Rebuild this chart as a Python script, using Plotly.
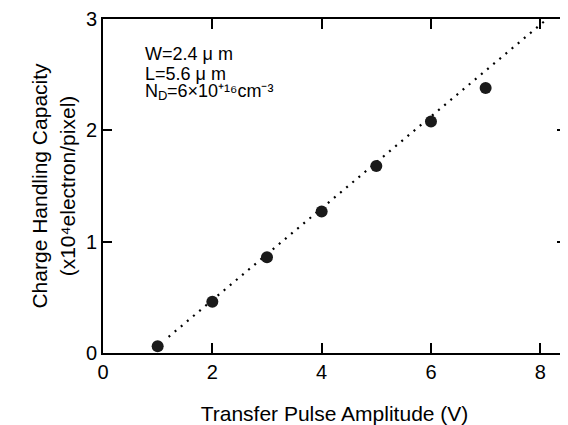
import plotly.graph_objects as go

# Data
pulse_v = [1, 2, 3, 4, 5, 6, 7]
capacity = [0.06, 0.46, 0.86, 1.27, 1.68, 2.08, 2.38]
fit_x = [1.2, 8.1]
fit_y = [0.145, 2.99]
x_ticks = [0, 2, 4, 6, 8]
y_ticks = [0, 1, 2, 3]
param_w = "W=2.4 μ m"
param_l = "L=5.6 μ m"
param_n = ["N", "D", "=6×10⁺¹⁶cm⁻³"]

X_RANGE = [0, 8.47]
Y_RANGE = [0, 3]

FONT = "Liberation Sans, Arial, Helvetica, sans-serif"
INK = "black"

fig = go.Figure()
fig.add_trace(go.Scatter(x=fit_x, y=fit_y, mode="lines",
                         line=dict(color=INK, width=2.2, dash="2px,6px"),
                         showlegend=False, hoverinfo="skip"))
fig.add_trace(go.Scatter(x=pulse_v, y=capacity, mode="markers",
                         marker=dict(color="#1a1a1a", size=12),
                         showlegend=False))

axis_common = dict(showline=True, linecolor=INK, linewidth=2, mirror="ticks",
                   ticks="inside", tickcolor=INK, tickwidth=2, showgrid=False,
                   zeroline=False, tickfont=dict(family=FONT, size=20, color=INK))

fig.update_xaxes(range=X_RANGE, tickvals=x_ticks, ticklen=10,
                 title=dict(text="Transfer Pulse Amplitude (V)",
                            font=dict(family=FONT, size=21, color=INK), standoff=24),
                 **axis_common)
fig.update_yaxes(range=Y_RANGE, tickvals=y_ticks, ticklen=9, ticksuffix="\u2002\u00a0",
                 title=dict(text="Charge Handling Capacity<br>(x10⁴electron/pixel)",
                            font=dict(family=FONT, size=21, color=INK), standoff=5),
                 **axis_common)

# parameter labels
ann_font = dict(family=FONT, size=18, color=INK)
fig.add_annotation(x=0.74, y=2.69, text=param_w, showarrow=False,
                   xanchor="left", yanchor="middle", font=ann_font)
fig.add_annotation(x=0.74, y=2.505, text=param_l, showarrow=False,
                   xanchor="left", yanchor="middle", font=ann_font)
fig.add_annotation(x=0.74, y=2.355, text=param_n[0], showarrow=False,
                   xanchor="left", yanchor="middle", font=ann_font)
fig.add_annotation(x=0.975, y=2.31, text=param_n[1], showarrow=False,
                   xanchor="left", yanchor="middle",
                   font=dict(family=FONT, size=13, color=INK))
fig.add_annotation(x=1.14, y=2.355, text=param_n[2], showarrow=False,
                   xanchor="left", yanchor="middle", font=ann_font)

fig.update_layout(width=560, height=417, margin=dict(l=95, r=0, t=11, b=72),
                  paper_bgcolor="white", plot_bgcolor="white",
                  font=dict(family=FONT, color=INK))
fig.write_html("out.html")
